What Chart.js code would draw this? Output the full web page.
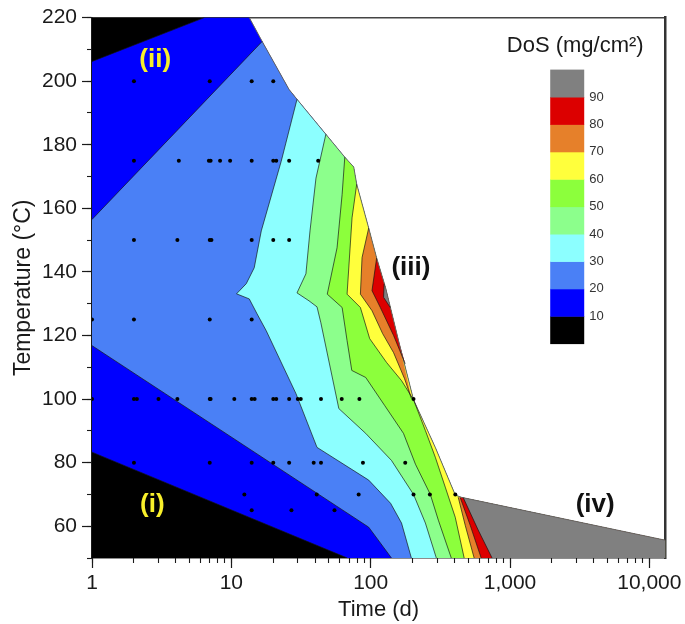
<!DOCTYPE html>
<html>
<head>
<meta charset="utf-8">
<title>DoS contour map</title>
<script src="https://cdn.jsdelivr.net/npm/chart.js@4.4.1/dist/chart.umd.min.js"></script>
<style>
  html, body { margin: 0; padding: 0; background: #fff; }
</style>
</head>
<body>
<canvas id="dosChart" width="685" height="624"></canvas>
<script>
// axis ticks
const xMajorTicks = [1, 10, 100, 1000, 10000];
const xTickLabels = ['1', '10', '100', '1,000', '10,000'];
const yMajorTicks = [60, 80, 100, 120, 140, 160, 180, 200, 220];
const yMinorTicks = [50, 60, 70, 80, 90, 100, 110, 120, 130, 140, 150, 160, 170, 180, 190, 200, 210, 220];

// colour scale (DoS, mg/cm2), from <10 up to >90
const dosLevels = [10, 20, 30, 40, 50, 60, 70, 80, 90];
const dosColors = ['#000000', '#0000ff', '#4a80f6', '#8cffff', '#8cff8c',
                   '#8cff3c', '#ffff3c', '#e6802a', '#dc0000', '#808080'];

// edge of the measured domain (white beyond it)
const edgeTime = [13.45, 16.65, 25.96, 29.6, 47.7, 65.2, 75.6, 79.4, 96.8, 110.4, 128, 158.5, 203, 291, 405, 446.7, 13000];
const edgeTemp = [220, 212.5, 197.4, 194.3, 183.3, 176.1, 173.0, 167.6, 153.8, 144.4, 135, 118.4, 99.8, 84.8, 69.8, 69.1, 55.6];

// contour lines (time in days, temperature in C)
const c10LowTime = [68, 1],        c10LowTemp = [50, 83.3];
const c10TopTime = [1, 6.4],       c10TopTemp = [206.2, 220];
const c20LowTime = [141, 96.8, 1], c20LowTemp = [50, 59.7, 116.8];
const c20TopTime = [1, 16.65],     c20TopTemp = [156.5, 212.5];
const c30Time = [29.6, 22.8, 16.4, 14.6, 12.8, 10.9, 13.45, 15.3, 17.8, 29.1, 41.2, 96.8, 139, 166.5, 196];
const c30Temp = [194.3, 174.8, 152.9, 141.3, 136.3, 133.1, 131.5, 126.8, 121.5, 101.7, 84.8, 74.5, 67.2, 61, 50];
const c40Time = [47.7, 40.5, 36.7, 34.3, 29.6, 36.1, 41.2, 43.9, 59.1, 92.1, 141, 203, 247, 296];
const c40Temp = [183.3, 169.5, 152.9, 139.4, 133.4, 130.9, 129, 124, 97, 89.2, 80.7, 70, 61, 50];
const c50Time = [65.2, 62.4, 57.4, 48.8, 62.4, 67.7, 73.2, 92.1, 125.9, 172, 209.6, 268, 306, 379];
const c50Temp = [176.1, 164.4, 147.6, 133, 128.8, 118.4, 109, 106.8, 98, 89.2, 79.5, 70, 61.9, 50];
const c60Time = [79.4, 73.5, 67.7, 84.4, 98.4, 130.1, 166.5, 203, 247, 291, 343, 404.7, 469];
const c60Temp = [167.6, 157, 133, 128.8, 119, 111.5, 105.8, 99.8, 90.1, 81.7, 72.3, 62.8, 50];
const c70UpTime = [96.8, 86.7, 84.4, 102.2, 121.8, 146, 175, 196];
const c70UpTemp = [153.8, 144.5, 133, 127.8, 120.6, 114.6, 106.4, 100.2];
const c70LowTime = [425, 477, 553],   c70LowTemp = [69.1, 60.3, 50];
const c80UpTime = [110.4, 102.2, 117.3, 146, 177];
const c80UpTemp = [144.4, 134.1, 128.8, 120, 111.1];
const c80LowTime = [439, 518, 621],   c80LowTemp = [69, 60.3, 50];
const c90UpTime = [124.9, 123.8, 138.3], c90UpTemp = [136.2, 132, 128.8];
const c90LowTime = [461.5, 591, 743.5], c90LowTemp = [69, 58.8, 50];

// measured samples, one row per temperature
const samples200 = [2, 7, 14, 20];
const samples175 = [2, 4.2, 6.9, 7.1, 8.3, 9.8, 14, 20, 21, 26, 42];
const samples150 = [2, 4.1, 7, 7.2, 14, 20, 26];
const samples125 = [1, 2, 7, 14];
const samples100 = [1, 2, 2.1, 3, 4.1, 7, 7.1, 10.5, 14, 14.7, 20, 21, 26, 30, 31.5, 44, 62, 83, 203];
const samples80 = [2, 7, 14, 20, 26, 39, 44, 88, 177];
const samples70 = [12.4, 41, 82, 203, 266, 405];
const samples65 = [14, 27, 55];

// region labels
const regionNames = ['(i)', '(ii)', '(iii)', '(iv)'];
const regionTime = [2.71, 2.84, 194.5, 4083];
const regionTemp = [66.8, 206.8, 141.3, 66.8];
const regionColors = ['#f8ef2a', '#f8ef2a', '#111111', '#111111'];

const FONT = "'Liberation Sans', Arial, Helvetica, sans-serif";
Chart.defaults.font.family = FONT;
Chart.defaults.color = '#1a1a1a';

const pts = (ts, ys) => ts.map((t, i) => ({ x: t, y: ys[i] }));
const edge = pts(edgeTime, edgeTemp);
const corner = { x: 13000, y: 50 };
const closed = (arr) => arr.concat([arr[0]]);

// filled areas where DoS >= level, lowest first
const regions = [
  { c: 0, points: [{ x: 1, y: 50 }, { x: 1, y: 220 }, ...edge, corner] },
  { c: 1, points: [...pts(c10LowTime, c10LowTemp), ...pts(c10TopTime, c10TopTemp), ...edge, corner] },
  { c: 2, points: [...pts(c20LowTime, c20LowTemp), ...pts(c20TopTime, c20TopTemp), ...edge.slice(2), corner] },
  { c: 3, points: [...pts(c30Time, c30Temp), corner, ...edge.slice(4).reverse()] },
  { c: 4, points: [...pts(c40Time, c40Temp), corner, ...edge.slice(5).reverse()] },
  { c: 5, points: [...pts(c50Time, c50Temp), corner, ...edge.slice(6).reverse()] },
  { c: 6, points: [...pts(c60Time, c60Temp), corner, ...edge.slice(8).reverse()] },
  { c: 7, points: [...pts(c70UpTime, c70UpTemp), ...edge.slice(9, 12).reverse()] },
  { c: 7, points: [...pts(c70LowTime, c70LowTemp), corner, edge[16], edge[15]] },
  { c: 8, points: [...pts(c80UpTime, c80UpTemp), ...edge.slice(10, 12).reverse()] },
  { c: 8, points: [...pts(c80LowTime, c80LowTemp), corner, edge[16], edge[15]] },
  { c: 9, points: [...pts(c90UpTime, c90UpTemp), edge[10]] },
  { c: 9, points: [...pts(c90LowTime, c90LowTemp), corner, edge[16]] },
];

const contourLines = [
  pts(c10LowTime, c10LowTemp), pts(c10TopTime, c10TopTemp),
  pts(c20LowTime, c20LowTemp), pts(c20TopTime, c20TopTemp),
  pts(c30Time, c30Temp), pts(c40Time, c40Temp), pts(c50Time, c50Temp), pts(c60Time, c60Temp),
  pts(c70UpTime, c70UpTemp), pts(c70LowTime, c70LowTemp),
  pts(c80UpTime, c80UpTemp), pts(c80LowTime, c80LowTemp),
  pts(c90UpTime, c90UpTemp), pts(c90LowTime, c90LowTemp),
];

const sampleRows = [[200, samples200], [175, samples175], [150, samples150], [125, samples125],
                    [100, samples100], [80, samples80], [70, samples70], [65, samples65]];
const samplePoints = [];
sampleRows.forEach(([temp, times]) => times.forEach(t => samplePoints.push({ x: t, y: temp })));

const datasets = [];
datasets.push({
  type: 'scatter', data: samplePoints, pointRadius: 2, pointBackgroundColor: '#000',
  pointBorderWidth: 0, showLine: false,
});
contourLines.forEach(line => datasets.push({
  type: 'line', data: line, borderColor: 'rgba(20,20,20,0.85)', borderWidth: 0.8,
  pointRadius: 0, fill: false, tension: 0,
}));
datasets.push({
  type: 'line', data: edge, borderColor: '#666', borderWidth: 1,
  pointRadius: 0, fill: false, tension: 0,
});
regions.slice().reverse().forEach(r => datasets.push({
  type: 'line', data: closed(r.points), backgroundColor: dosColors[r.c],
  borderWidth: 0, borderColor: 'rgba(0,0,0,0)', pointRadius: 0, fill: 'shape', tension: 0,
}));

const decorPlugin = {
  id: 'decor',
  afterDatasetsDraw(chart) {
    const { ctx, chartArea, scales: { x, y } } = chart;
    ctx.save();
    ctx.textAlign = 'center';
    ctx.textBaseline = 'middle';
    ctx.font = `bold 26px ${FONT}`;
    regionNames.forEach((name, i) => {
      ctx.fillStyle = regionColors[i];
      ctx.fillText(name, x.getPixelForValue(regionTime[i]), y.getPixelForValue(regionTemp[i]));
    });

    // colour bar legend
    const barLeft = chartArea.right - 115;
    const barTop = chartArea.top + 52;
    const barW = 34, segH = 27.4;
    ctx.font = `22px ${FONT}`;
    ctx.fillStyle = '#1a1a1a';
    ctx.fillText('DoS (mg/cm²)', chartArea.right - 90, chartArea.top + 28);
    dosColors.forEach((col, i) => {
      ctx.fillStyle = col;
      ctx.fillRect(barLeft, barTop + (dosColors.length - 1 - i) * segH, barW, segH + 0.5);
    });
    ctx.font = `13px ${FONT}`;
    ctx.textAlign = 'left';
    ctx.fillStyle = '#333';
    dosLevels.forEach((lv, i) => {
      ctx.fillText(String(lv), barLeft + barW + 5, barTop + (dosColors.length - 1 - i) * segH);
    });
    ctx.restore();
  }
};

const setTicks = (values) => (scale) => { scale.ticks = values.map(v => ({ value: v })); };

new Chart(document.getElementById('dosChart'), {
  type: 'scatter',
  data: { datasets },
  plugins: [decorPlugin],
  options: {
    responsive: false,
    animation: false,
    events: [],
    layout: { padding: 0 },
    plugins: { legend: { display: false }, tooltip: { enabled: false } },
    scales: {
      x: {
        type: 'logarithmic', position: 'bottom', min: 1, max: 13000, bounds: 'data', weight: 1,
        afterBuildTicks: setTicks(xMajorTicks),
        afterFit: (s) => { s.height = 66; },
        ticks: { autoSkip: false, maxRotation: 0, padding: 3, font: { size: 21 },
                 callback: (v, i) => xTickLabels[i] },
        grid: { drawOnChartArea: false, tickLength: 10, tickWidth: 1.2, tickColor: '#1a1a1a' },
        border: { color: '#1a1a1a', width: 1.5 },
        title: { display: true, text: 'Time (d)', font: { size: 22 }, padding: { top: 0, bottom: 1 } },
      },
      xMinor: {
        type: 'logarithmic', position: 'bottom', min: 1, max: 13000, bounds: 'data', weight: 0,
        afterBuildTicks: (scale) => {
          const vals = [];
          xMajorTicks.forEach(d => { for (let k = 1; k <= 9; k++) if (d * k <= 13000) vals.push(d * k); });
          scale.ticks = vals.map(v => ({ value: v }));
        },
        afterFit: (s) => { s.height = 0; },
        ticks: { display: false, autoSkip: false },
        grid: { drawOnChartArea: false, tickLength: 5, tickWidth: 1.1, tickColor: '#1a1a1a' },
        border: { display: false },
      },
      xTop: {
        type: 'linear', position: 'top', min: 0, max: 1,
        afterFit: (s) => { s.height = 16; },
        ticks: { display: false },
        grid: { display: false, drawTicks: false },
        border: { color: '#444', width: 1.5 },
      },
      y: {
        type: 'linear', position: 'left', min: 50, max: 220, bounds: 'data', weight: 1,
        afterBuildTicks: setTicks(yMajorTicks),
        afterFit: (s) => { s.width = 92; },
        ticks: { autoSkip: false, padding: 5, font: { size: 21 },
                 callback: (v, i) => String(yMajorTicks[i]) },
        grid: { drawOnChartArea: false, tickLength: 10, tickWidth: 1.2, tickColor: '#1a1a1a' },
        border: { color: '#1a1a1a', width: 1.5 },
        title: { display: true, text: 'Temperature (°C)', font: { size: 23 }, padding: { top: 10, bottom: 0 } },
      },
      yMinor: {
        type: 'linear', position: 'left', min: 50, max: 220, bounds: 'data', weight: 0,
        afterBuildTicks: setTicks(yMinorTicks),
        afterFit: (s) => { s.width = 0; },
        ticks: { display: false, autoSkip: false },
        grid: { drawOnChartArea: false, tickLength: 5, tickWidth: 1.1, tickColor: '#1a1a1a' },
        border: { display: false },
      },
      yRight: {
        type: 'linear', position: 'right', min: 0, max: 1,
        afterFit: (s) => { s.width = 17; },
        ticks: { display: false },
        grid: { display: false, drawTicks: false },
        border: { color: '#333', width: 2.5 },
      },
    },
  },
});
</script>
</body>
</html>
